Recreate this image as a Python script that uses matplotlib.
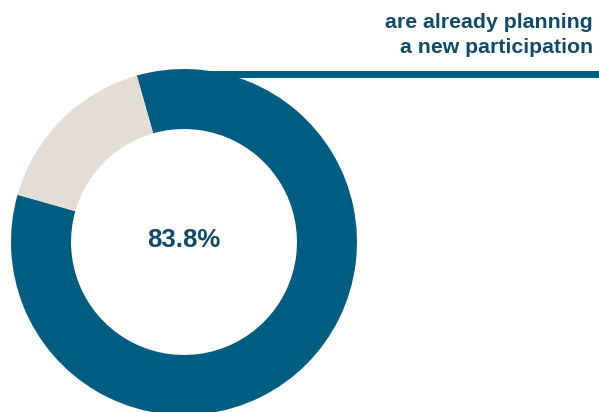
import matplotlib.pyplot as plt

plt.rcParams['font.family'] = ['Liberation Sans', 'DejaVu Sans']

# share of respondents
labels = ['Planning a new participation', 'Other']
values = [83.8, 16.2]
colors = ['#005d82', '#e3ddd6']
caption = ['are already planning', 'a new participation']
text_color = '#0d4b69'

W, H = 599, 412
fig = plt.figure(figsize=(W / 100, H / 100), dpi=100)
ax = fig.add_axes([0, 0, 1, 1])

cx, cy, r = 184, H - 242, 173
# beige slice centred at the upper-left diagonal
start = 135 - values[1] * 3.6 / 2
ax.pie(values, colors=colors, center=(cx, cy), radius=r, startangle=start,
       counterclock=False, wedgeprops=dict(width=r * 0.347, linewidth=0),
       frame=True)
ax.set_xlim(0, W)
ax.set_ylim(0, H)
ax.axis('off')

# leader line from the top of the ring to the right edge
ax.plot([cx, W], [H - 73.5, H - 73.5], color=colors[0], lw=5.0,
        solid_capstyle='butt')

ax.text(cx, cy + 2, f'{values[0]:.1f}%', ha='center', va='center',
        fontsize=18.5, fontweight='bold', color=text_color)

ax.text(593, H - 28, caption[0], ha='right', va='baseline', fontsize=15.3,
        fontweight='bold', color=text_color)
ax.text(593, H - 53, caption[1], ha='right', va='baseline', fontsize=15.3,
        fontweight='bold', color=text_color)

fig.savefig('out.png', dpi=100)
